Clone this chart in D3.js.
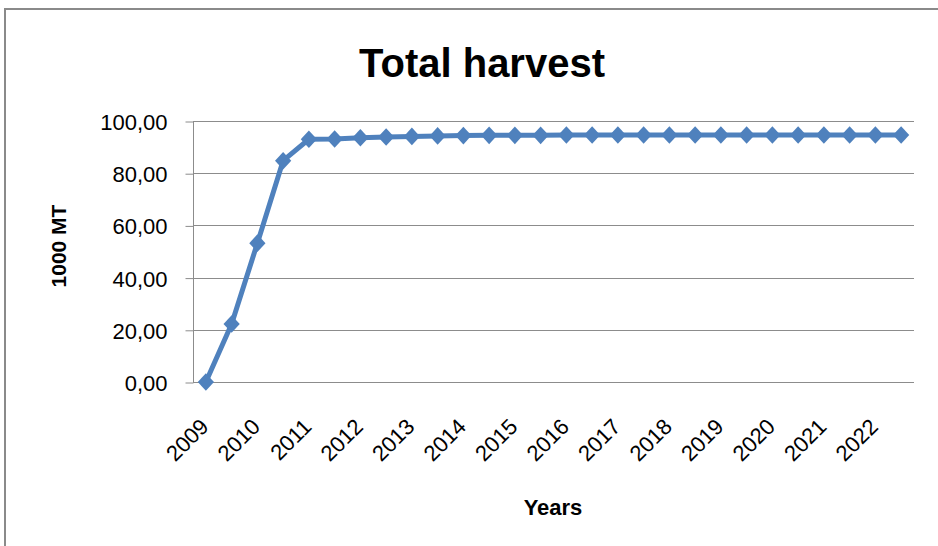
<!DOCTYPE html>
<html>
<head>
<meta charset="utf-8">
<script src="https://cdn.jsdelivr.net/npm/d3@7"></script>
<style>
  html, body { margin: 0; padding: 0; background: #fff; }
  svg { display: block; }
  text { font-family: "Liberation Sans", Arial, sans-serif; fill: #000; }
</style>
</head>
<body>
<svg id="chart" width="938" height="546"></svg>
<script>
// ---- data ----
const categories = ["2009","","2010","","2011","","2012","","2013","","2014","","2015","",
                    "2016","","2017","","2018","","2019","","2020","","2021","","2022",""];
const harvest = [0.0, 22.2, 53.2, 84.8, 93.0, 93.1, 93.6, 93.9, 94.1, 94.3, 94.4, 94.5, 94.5, 94.5,
                 94.6, 94.6, 94.6, 94.6, 94.6, 94.6, 94.6, 94.6, 94.6, 94.6, 94.6, 94.6, 94.6, 94.6];
const yTicks = [0, 20, 40, 60, 80, 100];
const title = "Total harvest";
const yTitle = "1000 MT";
const xTitle = "Years";

// ---- layout ----
const svg = d3.select("#chart");
const plot = { left: 193, right: 914, top: 121, bottom: 382 };

// chart frame (cropped at right/bottom)
svg.append("rect").attr("x", 5).attr("y", 9).attr("width", 1200).attr("height", 1200)
  .attr("fill", "none").attr("stroke", "#8a8a8a").attr("stroke-width", 2);

const x = d3.scaleBand().domain(d3.range(categories.length))
  .range([plot.left, plot.right]).paddingInner(0).paddingOuter(0);
const y = d3.scaleLinear().domain([0, 100]).range([plot.bottom, plot.top]);

// gridlines
svg.append("g").selectAll("line").data(yTicks.filter(d => d > 0)).join("line")
  .attr("x1", plot.left).attr("x2", plot.right)
  .attr("y1", d => Math.round(y(d)) + 0.5).attr("y2", d => Math.round(y(d)) + 0.5)
  .attr("stroke", "#8c8c8c").attr("stroke-width", 1);

// y axis
const yAxis = d3.axisLeft(y).tickValues(yTicks).tickSize(8).tickPadding(18)
  .tickFormat(d => d3.format(".2f")(d).replace(".", ","));
const gy = svg.append("g").attr("transform", `translate(${plot.left + 0.5},0.5)`).call(yAxis);
gy.select(".domain").attr("stroke", "#8c8c8c").attr("d", `M0,${plot.top}V${plot.bottom}`);
gy.selectAll(".tick line").attr("stroke", "#8c8c8c");
gy.selectAll(".tick text").attr("font-size", 22).attr("font-family", "Liberation Sans, Arial, sans-serif")
  .attr("fill", "#000").attr("dy", "0.36em");

// x axis line
svg.append("line").attr("x1", plot.left).attr("x2", plot.right)
  .attr("y1", Math.round(y(0)) + 0.5).attr("y2", Math.round(y(0)) + 0.5)
  .attr("stroke", "#8c8c8c").attr("stroke-width", 1);

// x tick labels (rotated)
const cx = i => x(i) + x.bandwidth() / 2;
svg.append("g").selectAll("text").data(categories.map((c, i) => ({ c, i })).filter(d => d.c !== ""))
  .join("text")
  .attr("transform", d => `translate(${cx(d.i) + 4},${plot.bottom + 46}) rotate(-45)`)
  .attr("text-anchor", "end").attr("font-size", 22)
  .text(d => d.c);

// line
const line = d3.line().x((d, i) => cx(i)).y(d => y(d));
svg.append("path").datum(harvest).attr("d", line)
  .attr("fill", "none").attr("stroke", "#4F81BD").attr("stroke-width", 5)
  .attr("stroke-linejoin", "round");

// diamond markers
svg.append("g").selectAll("path").data(harvest).join("path")
  .attr("transform", (d, i) => `translate(${cx(i)},${y(d)}) scale(1,1.08) rotate(45)`)
  .attr("d", d3.symbol().type(d3.symbolSquare).size(132))
  .attr("fill", "#4F81BD");

// titles
svg.append("text").attr("x", 482).attr("y", 77).attr("text-anchor", "middle")
  .attr("font-size", 40).attr("font-weight", "bold").text(title);
svg.append("text").attr("transform", `translate(66,246) rotate(-90)`).attr("text-anchor", "middle")
  .attr("font-size", 21).attr("font-weight", "bold").text(yTitle);
svg.append("text").attr("x", 553).attr("y", 515).attr("text-anchor", "middle")
  .attr("font-size", 22).attr("font-weight", "bold").text(xTitle);
</script>
</body>
</html>
